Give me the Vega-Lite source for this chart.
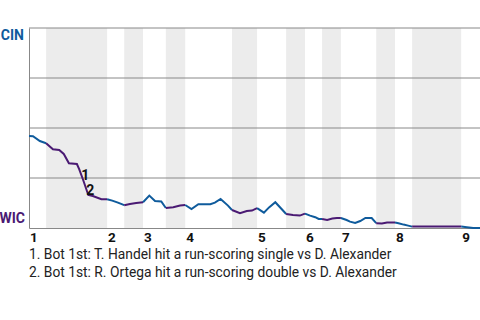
{
  "$schema": "https://vega.github.io/schema/vega-lite/v6.json",
  "width": 451,
  "height": 200,
  "autosize": {"type": "none"},
  "padding": {"left": 29, "top": 28, "right": 0, "bottom": 92},
  "background": "white",
  "config": {"view": {"stroke": null}, "font": "Roboto"},
  "title": {
    "text": ["1. Bot 1st: T. Handel hit a run-scoring single vs D. Alexander", "2. Bot 1st: R. Ortega hit a run-scoring double vs D. Alexander"],
    "orient": "bottom",
    "anchor": "start",
    "frame": "group",
    "font": "Roboto",
    "fontSize": 13.8,
    "fontWeight": "normal",
    "color": "#222222",
    "lineHeight": 18,
    "offset": 3
  },
  "datasets": {
    "wp": [
      {"t": 0, "v": 46, "half": "T1", "team": "CIN"},
      {"t": 0.7, "v": 45.9, "half": "T1", "team": "CIN"},
      {"t": 1.9, "v": 43.5, "half": "T1", "team": "CIN"},
      {"t": 3.0, "v": 42.4, "half": "T1", "team": "CIN"},
      {"t": 3.0, "v": 42.4, "half": "B1", "team": "WIC"},
      {"t": 4.2, "v": 39.4, "half": "B1", "team": "WIC"},
      {"t": 5.3, "v": 39, "half": "B1", "team": "WIC"},
      {"t": 6.1, "v": 37, "half": "B1", "team": "WIC"},
      {"t": 7.0, "v": 32.4, "half": "B1", "team": "WIC"},
      {"t": 8.4, "v": 32, "half": "B1", "team": "WIC"},
      {"t": 8.8, "v": 29.4, "half": "B1", "team": "WIC"},
      {"t": 9.5, "v": 24, "half": "B1", "team": "WIC"},
      {"t": 10.4, "v": 16.5, "half": "B1", "team": "WIC"},
      {"t": 11.2, "v": 16, "half": "B1", "team": "WIC"},
      {"t": 12.7, "v": 14.4, "half": "B1", "team": "WIC"},
      {"t": 13.7, "v": 14.4, "half": "B1", "team": "WIC"},
      {"t": 13.7, "v": 14.4, "half": "T2", "team": "CIN"},
      {"t": 14.6, "v": 13.7, "half": "T2", "team": "CIN"},
      {"t": 15.6, "v": 12.7, "half": "T2", "team": "CIN"},
      {"t": 16.7, "v": 11.4, "half": "T2", "team": "CIN"},
      {"t": 16.7, "v": 11.4, "half": "B2", "team": "WIC"},
      {"t": 17.7, "v": 12, "half": "B2", "team": "WIC"},
      {"t": 18.8, "v": 12.5, "half": "B2", "team": "WIC"},
      {"t": 20.0, "v": 12.9, "half": "B2", "team": "WIC"},
      {"t": 20.0, "v": 12.9, "half": "T3", "team": "CIN"},
      {"t": 21.1, "v": 16.2, "half": "T3", "team": "CIN"},
      {"t": 22.1, "v": 13.5, "half": "T3", "team": "CIN"},
      {"t": 23.2, "v": 13.3, "half": "T3", "team": "CIN"},
      {"t": 24.0, "v": 10, "half": "T3", "team": "CIN"},
      {"t": 24.0, "v": 10, "half": "B3", "team": "WIC"},
      {"t": 25.3, "v": 10.4, "half": "B3", "team": "WIC"},
      {"t": 26.5, "v": 11.2, "half": "B3", "team": "WIC"},
      {"t": 27.4, "v": 11.5, "half": "B3", "team": "WIC"},
      {"t": 27.4, "v": 11.5, "half": "T4", "team": "CIN"},
      {"t": 28.5, "v": 9.5, "half": "T4", "team": "CIN"},
      {"t": 29.7, "v": 11.9, "half": "T4", "team": "CIN"},
      {"t": 30.7, "v": 11.9, "half": "T4", "team": "CIN"},
      {"t": 31.8, "v": 11.9, "half": "T4", "team": "CIN"},
      {"t": 32.6, "v": 12.7, "half": "T4", "team": "CIN"},
      {"t": 33.6, "v": 14.5, "half": "T4", "team": "CIN"},
      {"t": 34.9, "v": 11.2, "half": "T4", "team": "CIN"},
      {"t": 35.6, "v": 9, "half": "T4", "team": "CIN"},
      {"t": 35.6, "v": 9, "half": "B4", "team": "WIC"},
      {"t": 37.0, "v": 7.4, "half": "B4", "team": "WIC"},
      {"t": 38.2, "v": 8.5, "half": "B4", "team": "WIC"},
      {"t": 39.1, "v": 8.7, "half": "B4", "team": "WIC"},
      {"t": 40.0, "v": 9.9, "half": "B4", "team": "WIC"},
      {"t": 40.0, "v": 9.9, "half": "T5", "team": "CIN"},
      {"t": 41.2, "v": 7.7, "half": "T5", "team": "CIN"},
      {"t": 42.1, "v": 10.3, "half": "T5", "team": "CIN"},
      {"t": 43.2, "v": 12.9, "half": "T5", "team": "CIN"},
      {"t": 44.3, "v": 9.5, "half": "T5", "team": "CIN"},
      {"t": 45.1, "v": 7, "half": "T5", "team": "CIN"},
      {"t": 45.1, "v": 7, "half": "B5", "team": "WIC"},
      {"t": 46.3, "v": 6.5, "half": "B5", "team": "WIC"},
      {"t": 47.5, "v": 6.2, "half": "B5", "team": "WIC"},
      {"t": 48.4, "v": 7.2, "half": "B5", "team": "WIC"},
      {"t": 48.4, "v": 7.2, "half": "T6", "team": "CIN"},
      {"t": 49.3, "v": 6.2, "half": "T6", "team": "CIN"},
      {"t": 50.2, "v": 5.4, "half": "T6", "team": "CIN"},
      {"t": 50.8, "v": 4.5, "half": "T6", "team": "CIN"},
      {"t": 51.4, "v": 4.5, "half": "T6", "team": "CIN"},
      {"t": 51.4, "v": 4.5, "half": "B6", "team": "WIC"},
      {"t": 52.3, "v": 4, "half": "B6", "team": "WIC"},
      {"t": 53.2, "v": 4.7, "half": "B6", "team": "WIC"},
      {"t": 54.0, "v": 5, "half": "B6", "team": "WIC"},
      {"t": 54.7, "v": 5, "half": "B6", "team": "WIC"},
      {"t": 54.7, "v": 5, "half": "T7", "team": "CIN"},
      {"t": 55.7, "v": 4, "half": "T7", "team": "CIN"},
      {"t": 56.3, "v": 3.2, "half": "T7", "team": "CIN"},
      {"t": 57.2, "v": 2.5, "half": "T7", "team": "CIN"},
      {"t": 58.1, "v": 3.5, "half": "T7", "team": "CIN"},
      {"t": 59.0, "v": 5, "half": "T7", "team": "CIN"},
      {"t": 60.1, "v": 5, "half": "T7", "team": "CIN"},
      {"t": 60.9, "v": 2.4, "half": "T7", "team": "CIN"},
      {"t": 60.9, "v": 2.4, "half": "B7", "team": "WIC"},
      {"t": 61.9, "v": 2.2, "half": "B7", "team": "WIC"},
      {"t": 62.8, "v": 2.7, "half": "B7", "team": "WIC"},
      {"t": 64.2, "v": 2.7, "half": "B7", "team": "WIC"},
      {"t": 64.2, "v": 2.7, "half": "T8", "team": "CIN"},
      {"t": 64.8, "v": 2.4, "half": "T8", "team": "CIN"},
      {"t": 65.7, "v": 1.7, "half": "T8", "team": "CIN"},
      {"t": 66.5, "v": 1.2, "half": "T8", "team": "CIN"},
      {"t": 67.2, "v": 0.7, "half": "T8", "team": "CIN"},
      {"t": 67.2, "v": 0.7, "half": "B8", "team": "WIC"},
      {"t": 75.8, "v": 0.7, "half": "B8", "team": "WIC"},
      {"t": 75.8, "v": 0.7, "half": "T9", "team": "CIN"},
      {"t": 76.8, "v": 0.4, "half": "T9", "team": "CIN"},
      {"t": 77.9, "v": 0, "half": "T9", "team": "CIN"},
      {"t": 79.1, "v": 0, "half": "T9", "team": "CIN"}
    ],
    "innings": [
      {"inning": "1", "top": 0, "bstart": 3.0, "bend": 13.7},
      {"inning": "2", "top": 13.7, "bstart": 16.7, "bend": 20.0},
      {"inning": "3", "top": 20.0, "bstart": 24.0, "bend": 27.4},
      {"inning": "4", "top": 27.4, "bstart": 35.6, "bend": 40.0},
      {"inning": "5", "top": 40.0, "bstart": 45.1, "bend": 48.4},
      {"inning": "6", "top": 48.4, "bstart": 51.4, "bend": 54.7},
      {"inning": "7", "top": 54.7, "bstart": 60.9, "bend": 64.2},
      {"inning": "8", "top": 64.2, "bstart": 67.2, "bend": 75.8},
      {"inning": "9", "top": 75.8, "bstart": null, "bend": null}
    ],
    "grid": [{"v": 25}, {"v": 50}, {"v": 75}, {"v": 100}],
    "events": [
      {"label": "1", "t": 9.5, "v": 24},
      {"label": "2", "t": 10.4, "v": 16.5}
    ],
    "teams": [
      {"team": "CIN", "v": 100},
      {"team": "WIC", "v": 0}
    ]
  },
  "layer": [
    {
      "data": {"name": "innings"},
      "transform": [{"filter": "isValid(datum.bstart)"}],
      "mark": {"type": "rect", "color": "#ececec"},
      "encoding": {
        "x": {"field": "bstart", "type": "quantitative", "scale": {"domain": [0, 79.1], "nice": false, "zero": false}, "axis": {"title": null, "labels": false, "ticks": false, "grid": false, "domain": true, "domainColor": "#888888", "domainWidth": 1}},
        "x2": {"field": "bend"}
      }
    },
    {
      "data": {"name": "grid"},
      "mark": {"type": "rule", "color": "#888888", "strokeWidth": 1},
      "encoding": {
        "y": {"field": "v", "type": "quantitative", "scale": {"domain": [0, 100], "nice": false}, "axis": {"title": null, "labels": false, "ticks": false, "grid": false, "domain": true, "domainColor": "#888888", "domainWidth": 1}}
      }
    },
    {
      "data": {"name": "wp"},
      "mark": {"type": "line", "strokeWidth": 2, "interpolate": "linear"},
      "encoding": {
        "x": {"field": "t", "type": "quantitative"},
        "y": {"field": "v", "type": "quantitative"},
        "detail": {"field": "half"},
        "color": {"field": "team", "type": "nominal", "scale": {"domain": ["CIN", "WIC"], "range": ["#0f5b9c", "#4a1a73"]}, "legend": null}
      }
    },
    {
      "data": {"name": "events"},
      "mark": {"type": "text", "font": "Roboto", "fontSize": 14, "fontWeight": "bold", "color": "#111111", "align": "center", "baseline": "middle", "dx": 2, "dy": -4},
      "encoding": {
        "x": {"field": "t", "type": "quantitative"},
        "y": {"field": "v", "type": "quantitative"},
        "text": {"field": "label"}
      }
    },
    {
      "data": {"name": "innings"},
      "mark": {"type": "text", "font": "Roboto", "fontSize": 13.5, "fontWeight": "bold", "color": "#111111", "align": "left", "baseline": "top", "dx": 1, "dy": 3},
      "encoding": {
        "x": {"field": "top", "type": "quantitative"},
        "y": {"datum": 0},
        "text": {"field": "inning"}
      }
    },
    {
      "data": {"name": "teams"},
      "transform": [{"filter": "datum.team === 'CIN'"}],
      "mark": {"type": "text", "font": "Roboto", "fontSize": 14, "fontWeight": "bold", "color": "#0f5b9c", "align": "right", "baseline": "top", "dx": -5, "dy": 1},
      "encoding": {"x": {"datum": 0}, "y": {"field": "v", "type": "quantitative"}, "text": {"field": "team"}}
    },
    {
      "data": {"name": "teams"},
      "transform": [{"filter": "datum.team === 'WIC'"}],
      "mark": {"type": "text", "font": "Roboto", "fontSize": 14, "fontWeight": "bold", "color": "#4a1a73", "align": "right", "baseline": "bottom", "dx": -4, "dy": -2},
      "encoding": {"x": {"datum": 0}, "y": {"field": "v", "type": "quantitative"}, "text": {"field": "team"}}
    }
  ]
}
